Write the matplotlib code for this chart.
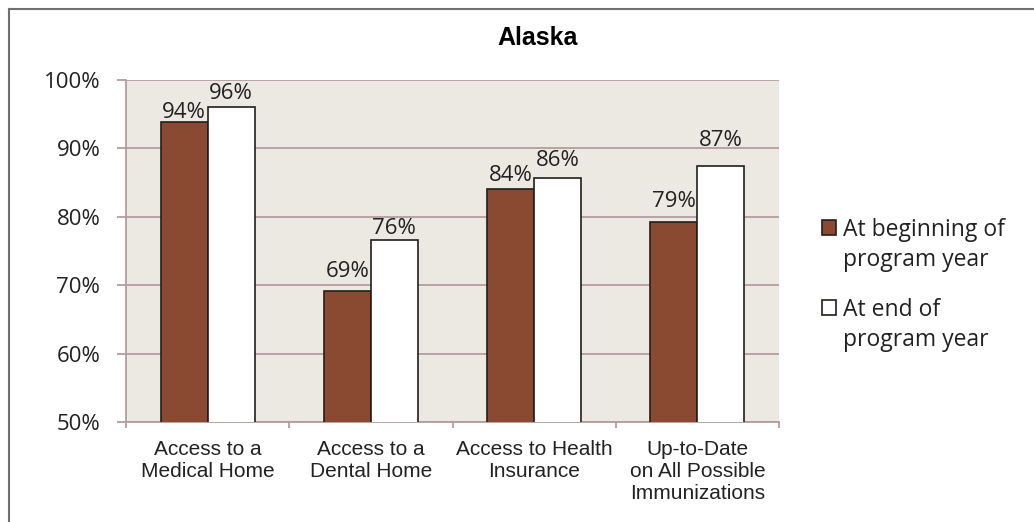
import numpy as np
import matplotlib.pyplot as plt
from matplotlib.patches import Rectangle
from matplotlib.lines import Line2D

categories = ["Access to a\nMedical Home", "Access to a\nDental Home",
              "Access to Health\nInsurance", "Up-to-Date\non All Possible\nImmunizations"]
begin_vals = [93.8, 69.2, 84.0, 79.3]
end_vals = [96.1, 76.6, 85.6, 87.5]
begin_labels = ["94%", "69%", "84%", "79%"]
end_labels = ["96%", "76%", "86%", "87%"]
series_names = ["At beginning of\nprogram year", "At end of\nprogram year"]
yticks = [50, 60, 70, 80, 90, 100]

brown = "#8A4A32"
edge = "#231F1A"
grid_col = "#B49C9E"
bg = "#ECE9E3"
txt = "#222222"
label_font = ["Open Sans", "DejaVu Sans"]
cat_font = ["Liberation Sans", "DejaVu Sans"]
# gap (px) between bar top and label baseline, as placed in the original
label_gap = [[4, 14, 8, 15], [8, 6, 12, 19]]

W, H = 1034, 522
fig = plt.figure(figsize=(W / 100, H / 100), dpi=100)
ax = fig.add_axes([126 / W, 1 - 422 / H, (779 - 126) / W, (422 - 80) / H])
ax.set_facecolor(bg)

# outer frame: only top and left edges are visible
fig.add_artist(Line2D([9 / W, 1.0], [1 - 9 / H, 1 - 9 / H], transform=fig.transFigure,
                      color="#707070", lw=1.5))
fig.add_artist(Line2D([9 / W, 9 / W], [0, 1 - 9 / H], transform=fig.transFigure,
                      color="#707070", lw=1.5))

x = np.arange(len(categories))
w = 0.288
b1 = ax.bar(x - w / 2, begin_vals, w, color=brown, edgecolor=edge, linewidth=1.2, zorder=3)
b2 = ax.bar(x + w / 2, end_vals, w, color="white", edgecolor=edge, linewidth=1.2, zorder=3)

for bars, labs, gaps in ((b1, begin_labels, label_gap[0]), (b2, end_labels, label_gap[1])):
    for r, lab, g in zip(bars, labs, gaps):
        ax.annotate(lab, (r.get_x() + r.get_width() / 2, r.get_height()), xytext=(0, g),
                    textcoords="offset pixels", ha="center", va="baseline",
                    fontsize=16, color=txt, family=label_font)

ax.set_xlim(-0.5, len(categories) - 0.5)
ax.set_ylim(50, 100)
ax.set_yticks(yticks)
ax.set_yticklabels([f"{v}%" for v in yticks], family=label_font, fontsize=16, color=txt)
ax.yaxis.grid(True, color=grid_col, lw=1.3, zorder=0)
ax.tick_params(axis="y", length=6.5, width=1.3, color=grid_col, pad=12)

ax.set_xticks(x)
ax.set_xticklabels(categories, family=cat_font, fontsize=15, color=txt, linespacing=1.2)
ax.set_xticks(np.arange(-0.5, len(categories), 1), minor=True)
ax.tick_params(axis="x", which="major", length=0, pad=13)
ax.tick_params(axis="x", which="minor", length=4.5, width=1.3, color=grid_col)

for s in ["top", "right"]:
    ax.spines[s].set_visible(False)
for s in ["left", "bottom"]:
    ax.spines[s].set_color(grid_col)
    ax.spines[s].set_linewidth(1.3)

fig.text(538 / W, 1 - 45 / H, "Alaska", family=cat_font, fontsize=18, fontweight="bold",
         color="black", ha="center", va="baseline")

# legend: square aligned with the first line of each label
for i, (name, fc) in enumerate(zip(series_names, [brown, "white"])):
    top = 220 + i * 80
    fig.add_artist(Rectangle((822 / W, 1 - (top + 15) / H), 14 / W, 15 / H,
                             transform=fig.transFigure, facecolor=fc, edgecolor=edge, lw=1.2))
    fig.text(843 / W, 1 - (top - 2) / H, name, family=label_font, fontsize=16.5, color=txt,
             ha="left", va="top", linespacing=1.32)

fig.savefig("out.png", dpi=100)
